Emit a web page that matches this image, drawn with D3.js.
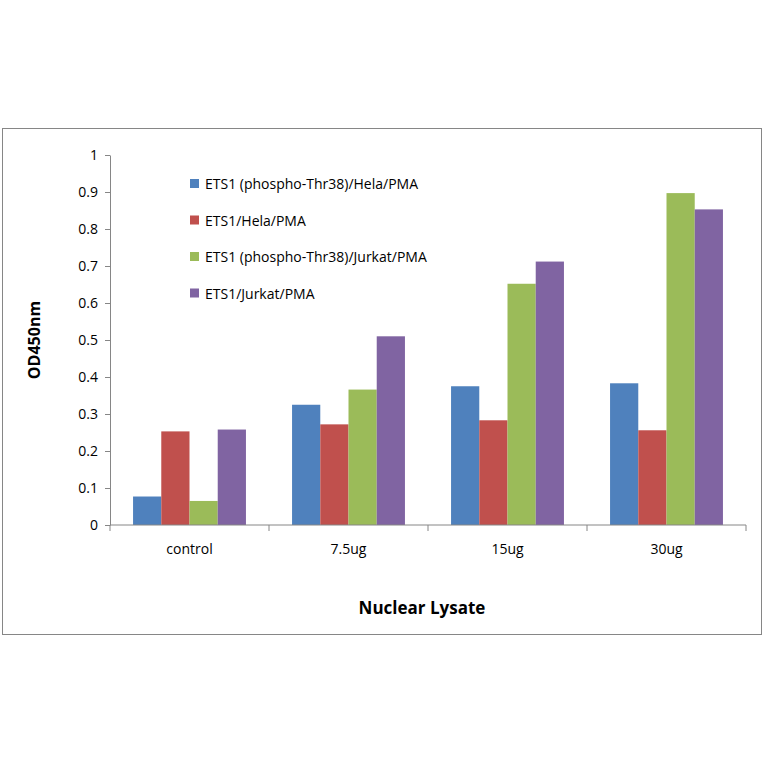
<!DOCTYPE html><html><head><script src="https://cdn.jsdelivr.net/npm/d3@7"></script>
<style>body{margin:0;background:#fff}text{font-family:"Open Sans",sans-serif}</style></head><body>
<svg id="c" width="764" height="764"></svg>
<script>
const categories=["control","7.5ug","15ug","30ug"];
const seriesNames=["ETS1 (phospho-Thr38)/Hela/PMA","ETS1/Hela/PMA","ETS1 (phospho-Thr38)/Jurkat/PMA","ETS1/Jurkat/PMA"];
const colors=["#4F81BD","#C0504D","#9BBB59","#8064A2"];
const s1=[0.077,0.325,0.375,0.383];
const s2=[0.253,0.272,0.283,0.256];
const s3=[0.065,0.366,0.652,0.897];
const s4=[0.258,0.510,0.712,0.853];
const yTicks=[0,0.1,0.2,0.3,0.4,0.5,0.6,0.7,0.8,0.9,1];
const series=[s1,s2,s3,s4];
const svg=d3.select("#c");
svg.append("rect").attr("x",2.5).attr("y",128.5).attr("width",759).attr("height",506).attr("fill","#fff").attr("stroke","#868686");
const x=d3.scaleBand().domain(categories).range([110,746]).paddingInner(0.29).paddingOuter(0.145);
const xo=d3.scaleBand().domain([0,1,2,3]).range([0,x.bandwidth()]);
const y=d3.scaleLinear().domain([0,1]).range([525,155]);
const g=svg.append("g");
series.forEach((s,i)=>{g.selectAll(null).data(s).enter().append("rect")
 .attr("x",(d,j)=>x(categories[j])+xo(i)).attr("width",xo.bandwidth())
 .attr("y",d=>y(d)).attr("height",d=>y(0)-y(d)).attr("fill",colors[i]);});
const ya=svg.append("g").attr("transform","translate(110,0)").call(d3.axisLeft(y).tickValues(yTicks).tickFormat(d3.format("~g")).tickSize(5).tickSizeOuter(0));
ya.selectAll("text").attr("font-size",14).attr("fill","#000").attr("dx",-4);
ya.selectAll("line,path").attr("stroke","#868686");
const xa=svg.append("g").attr("transform","translate(0,525)");
xa.append("line").attr("x1",110).attr("x2",746).attr("stroke","#868686");
const step=x.step();
d3.range(5).forEach(k=>xa.append("line").attr("x1",110+k*(636/4)).attr("x2",110+k*(636/4)).attr("y2",6).attr("stroke","#868686"));
categories.forEach(c=>xa.append("text").attr("x",x(c)+x.bandwidth()/2).attr("y",29).attr("text-anchor","middle").attr("font-size",14).text(c));
svg.append("text").attr("transform","translate(40,340) rotate(-90)").attr("text-anchor","middle").attr("font-size",16).attr("font-weight","bold").text("OD450nm");
svg.append("text").attr("x",422).attr("y",614).attr("text-anchor","middle").attr("font-size",17).attr("font-weight","bold").text("Nuclear Lysate");
seriesNames.forEach((n,i)=>{const yy=184+i*36.5;
 svg.append("rect").attr("x",190).attr("y",yy-5).attr("width",9).attr("height",9).attr("fill",colors[i]);
 svg.append("text").attr("x",205).attr("y",yy+5).attr("font-size",14).text(n);});
</script></body></html>
